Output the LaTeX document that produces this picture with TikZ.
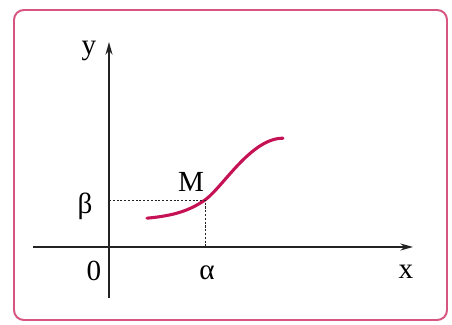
\documentclass[tikz,border=0pt]{standalone}
\usepackage{fontspec}
\setmainfont{Liberation Serif}
\usetikzlibrary{arrows.meta}
\definecolor{FrameRose}{RGB}{214, 86, 128}
\definecolor{CurveRed}{RGB}{196, 18, 84}
\definecolor{AxisGray}{RGB}{35, 35, 35}

\begin{document}
\begin{tikzpicture}[scale=1, transform shape]
    \useasboundingbox (-2.725, -1.95) rectangle (8.575, 6.175);

    % Frame
    \draw[FrameRose, line width=1.4pt, rounded corners=7pt] (-2.375, -1.825) rectangle (8.45, 5.925);

    % Axes
    \coordinate (O) at (0, 0);
    \coordinate (xL) at (-1.9, 0);
    \coordinate (xR) at (7.6, 0);
    \coordinate (yB) at (0, -1.275);
    \coordinate (yT) at (0, 5.125);
    \draw[-{Stealth[length=9pt, width=5pt]}, line width=1.3pt, AxisGray] (xL) -- (xR);
    \draw[-{Stealth[length=9pt, width=5pt]}, line width=1.3pt, AxisGray] (yB) -- (yT);

    \node[font=\huge] (lx) at (7.425, -0.625) {x};
    \node[font=\huge] (ly) at (-0.5, 4.9) {y};
    \node[font=\huge] (l0) at (-0.375, -0.6) {0};

    % Curve through M
    \coordinate (S) at (0.95, 0.72);
    \coordinate (M) at (2.4, 1.175);
    \coordinate (E) at (4.35, 2.72);
    \draw[CurveRed, line width=2.2pt, line cap=round]
      (S) .. controls (1.6, 0.78) and (2.0, 0.9) .. (M)
          .. controls (2.85, 1.5) and (3.55, 2.72) .. (E);

    % Projections of M
    \coordinate (Mx) at (M |- O);
    \coordinate (My) at (M -| O);
    \draw[dash pattern=on 1.5pt off 1.2pt, line width=0.7pt, AxisGray] (My) -- (M) -- (Mx);

    \node[font=\huge] (lM) at (2.05, 1.62) {M};
    \node[font=\huge] (la) at (2.45, -0.65) {α};
    \node[font=\huge] (lb) at (-0.6, 1.02) {β};
  \end{tikzpicture}
\end{document}
